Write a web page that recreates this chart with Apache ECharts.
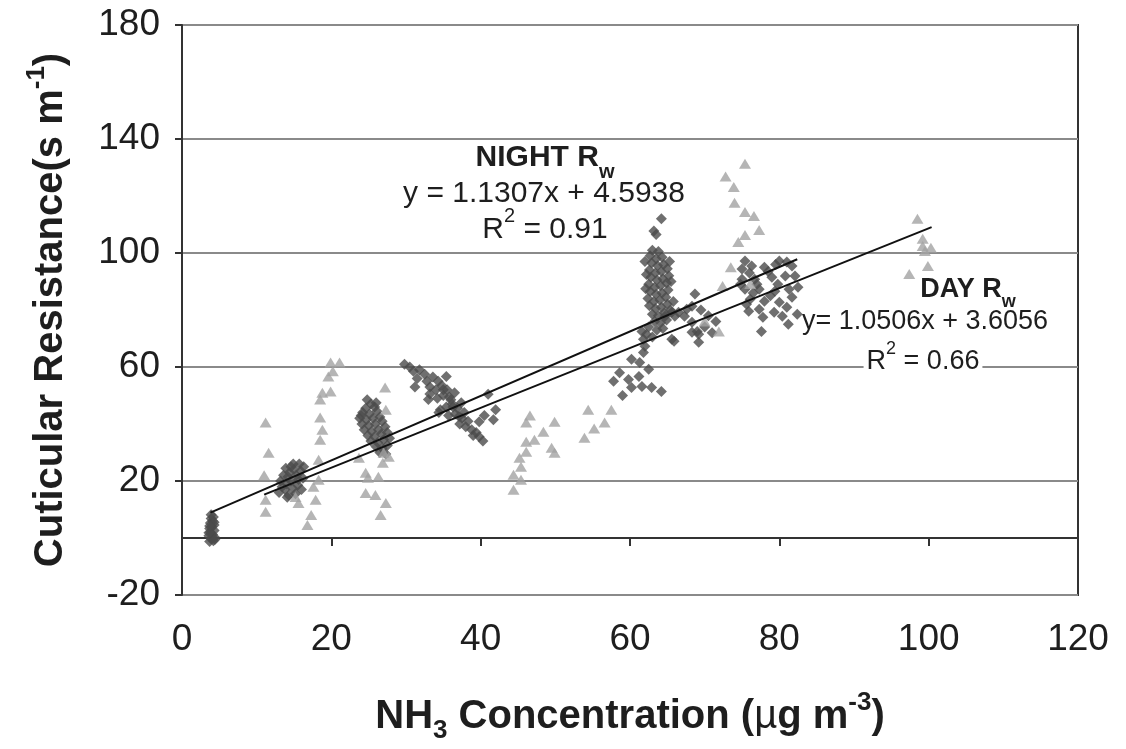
<!DOCTYPE html>
<html style="height: 100%">
<head>
<meta charset="utf-8">
<script src="https://cdn.jsdelivr.net/npm/echarts@6/dist/echarts.min.js"></script>
<title>Cuticular resistance vs NH3</title>
</head>
<body style="height: 100%; margin: 0; background: #fff">
<div id="container" style="width: 1126px; height: 749px"></div>
<script type="text/javascript">

// night Rw points (dark diamonds), [NH3, Rw]
const nightPoints = [
  [3.7,-1.2],[4.2,-1],[3.9,-0.3],[4.4,0.2],[3.6,0.8],[4.1,1.2],[3.8,2],[4.3,2.6],[3.7,3.3],[4.0,4],
  [4.3,4.6],[3.8,5.3],[4.1,6],[3.9,6.8],[4.2,7.4],[3.9,8.2],[4.4,-0.5],[3.6,1.8],[4.3,5.5],[3.7,4.2],
  [13,16],[13.4,18],[13.2,20],[13.8,17],[14,19],[14.2,21.5],[14.4,23],[14.6,25],[14.9,26],[15,24],
  [15.3,22],[15.6,20.5],[15.9,23.5],[16.2,21],[16.3,25],[14.8,17.5],[15.2,15.5],[14.3,15],[13.6,22],[15.5,18.5],
  [16,17],[14.6,20],[13.9,24.5],[15.7,26],[14.1,14.3],
  [24.8,48.5],[25.3,47],[24.6,45.5],[25.8,46],[24.2,44],[25.1,43.5],[26.1,44.5],[23.8,42],[24.7,41.5],[25.6,42],
  [26.5,42.5],[24.1,40],[25,39.5],[25.9,40],[26.8,41],[24.4,38],[25.4,37.5],[26.3,38],[27.2,39],[24.9,36],
  [25.8,35.5],[26.7,36.5],[27.5,37],[25.3,34],[26.2,33.5],[27,34.5],[27.8,35],[26,32],[26.8,31.5],[27.5,32.5],
  [26.5,30],[27.3,29.5],[24,43],[26,47.5],
  [29.8,61],[30.5,60],[31,58.5],[31.8,59],[32.5,57.5],[31.5,56],[32.8,55],[33.6,56.5],[34.3,55],[33.2,53],
  [34,52],[34.8,53.5],[35.5,52],[35,50],[34.2,49],[35.8,49.5],[36.5,51],[36.2,47],[35.4,46],[36.9,45.5],
  [37.4,47.5],[35.7,43],[36.6,43.5],[37.5,42],[38.3,41],[38,39],[38.8,38],[39.4,37],[39.8,35.5],[40.3,34],
  [39,36],[37.2,40],[33.2,50.5],[31.2,53],[34.6,45],[36,48.5],[37.8,44],[41,50.4],[42,45],[39.8,40.8],
  [41.7,41.5],[40.5,43],[35.4,56.7],[35,52],[33,48.6],[34.4,44],[36.3,46],[37.1,42.6],
  [58.6,58],[59.8,55.6],[61.2,56.7],[60.2,52.8],[61.6,53.2],[62.9,52.8],[64.2,51.4],[62.5,59.2],[61.3,61.6],[60.2,62.7],
  [61.8,65.1],[62,67.3],[61.8,69.7],[61.6,72.5],[57.8,55],[59,50],
  [64.2,112],[63.2,107.7],[63.5,106.5],
  [63,101],[63.8,100.5],[62.7,99],[63.5,98],[64.3,98.5],[62.9,96.5],[63.7,95.5],[64.5,96],[62.6,94],[63.4,93],
  [64.2,93.5],[65,94.5],[62.8,91.5],[63.6,90.5],[64.4,91],[65.2,92],[62.5,89],[63.3,88],[64.1,88.5],[64.9,89.5],
  [62.7,86.5],[63.5,85.5],[64.3,86],[65.1,87],[62.4,84],[63.2,83],[64,83.5],[64.8,84.5],[62.6,81.5],[63.4,80.5],
  [64.2,81],[65,82],[65.8,83],[63,78.5],[63.8,78],[64.6,79],[65.4,80],[63.3,76],[64.1,75.5],[64.9,76.5],
  [62.5,74],[63.6,73],[64.4,73.5],[62.2,71.5],[63,70.5],[62,97],[65.3,97],[62.2,92.5],[65.5,90],[62.1,87.5],
  [68.7,85.6],[68.3,81.3],[67.3,77.8],[66.5,79.2],[68.3,75.7],[69,72.5],[68.3,72.2],[65.9,69],[69.2,68.7],[65.6,79.2],
  [64.7,77.8],[67.6,80.3],[69.2,71.5],[65.6,69.7],[66,77.8],[70,74],[71,72],[71.5,76],[70.5,78],[69.5,80],
  [75.4,97.2],[75,94.4],[76.3,95.4],[78,95],[80,97.2],[81,96.8],[81.7,95.4],[75,90.8],[76.7,90.8],[79,91.5],
  [80.8,91.9],[82.1,91.9],[75.4,87.3],[77.3,87.3],[79.4,86.6],[81.3,87.3],[76.1,83.8],[78,83.1],[80,82.7],[81.7,84.5],
  [75.9,79.6],[77.3,80.3],[79.3,79.2],[80.4,77.8],[82.4,78.5],[77.6,72.5],[81.2,75],[76,93],[78.5,93.5],[77,89],
  [79.8,89],[78.8,85],[76.5,86],[81,81],[77.8,77.5],[75.6,82],[79.5,96],[82.5,88],[74.8,89]
];

// day Rw points (light triangles)
const dayPoints = [
  [11.2,40.5],[11.6,29.9],[11,22],[11.2,13.4],[11.2,9.2],[15.2,14.4],[15.6,12.3],[16.8,4.6],[17.3,8.1],[17.6,18],
  [17.9,13.4],[18.3,27.5],[18.5,34.5],[18.8,38],[18.5,42.3],[18.5,48.6],[18.8,51],[19.9,51.4],[19.6,56.7],[19.9,61.6],
  [21.1,61.6],[20.2,58.5],[18.3,20.4],[23.7,28.2],[24.6,22.9],[24.9,21.1],[24.6,15.8],[25.9,15.1],[27.3,12.3],[26.6,8.1],
  [26.3,21.5],[26.9,26.4],[27,29.9],[27.3,45],[27.2,52.8],[27.7,28.5],
  [44.4,16.9],[44.4,22.2],[45.4,20.4],[45.4,25],[45.2,28.2],[46.1,30.3],[46.1,33.8],[47.2,34.5],[46.1,40.5],[46.6,43],
  [48.4,37.3],[49.9,40.8],[49.5,31.7],[49.9,29.9],[53.9,35.2],[55.2,38.4],[56.6,40.5],[54.4,45],[57.5,45],
  [75.4,131.3],[72.8,126.8],[73.9,123.2],[74,117.6],[75.4,114.4],[76.6,113],[77.3,108.1],[75.4,106.3],[74.5,103.9],[73.5,95],
  [76.1,89.1],[72.4,88.4],[71.9,72.5],[70,76],
  [98.5,112],[99.2,102.5],[99.5,100.7],[100.3,101.8],[99.9,95.4],[97.4,92.6],[99.2,105]
];

// fitted lines, end points
const nightTrend = [[3.8, 8.9], [82.4, 97.8]];
const dayTrend = [[11, 15.2], [100.4, 109.1]];

const xTicks = [0, 20, 40, 60, 80, 100, 120];
const yTicks = [-20, 20, 60, 100, 140, 180];

const FONT = 'Liberation Sans';
const dark = '#1e1e1e';

let dom = document.getElementById('container');
let chart = echarts.init(dom);

// rich styles for the axis titles (sub / superscripts)
const supSub = {
  b: {fontSize: 40, fontWeight: 'bold', fontFamily: FONT, color: dark, lineHeight: 54},
  bs: {fontSize: 26, fontWeight: 'bold', fontFamily: FONT, color: dark, lineHeight: 2, verticalAlign: 'bottom'},
  bp: {fontSize: 26, fontWeight: 'bold', fontFamily: FONT, color: dark, lineHeight: 22, verticalAlign: 'top'},
  mu: {fontSize: 40, fontWeight: 'normal', fontFamily: FONT, color: dark, lineHeight: 54}
};

function note(x, y, text, size, bold, bg) {
  return {
    type: 'text', x: x, y: y, z: 100,
    style: {
      text: text, textAlign: 'center', textVerticalAlign: 'middle',
      fontFamily: FONT, fontSize: size, fill: dark,
      backgroundColor: bg ? '#fff' : null, padding: bg ? [0, 3] : 0,
      rich: {
        n: {fontSize: size, fontWeight: bold ? 'bold' : 'normal', fontFamily: FONT, color: dark, lineHeight: Math.round(size * 1.6)},
        s: {fontSize: Math.round(size * 0.68), fontWeight: bold ? 'bold' : 'normal', fontFamily: FONT, color: dark, lineHeight: 2, verticalAlign: 'bottom'},
        p: {fontSize: Math.round(size * 0.68), fontFamily: FONT, color: dark, lineHeight: 2, verticalAlign: 'top'}
      }
    }
  };
}

chart.setOption({
  animation: false,
  backgroundColor: '#fff',
  grid: {left: 182, right: 48, top: 25, bottom: 154, show: true, borderColor: '#333', borderWidth: 2},
  xAxis: [
    {
      type: 'value', min: 0, max: 120, position: 'bottom',
      axisLine: {show: false, onZero: false},
      axisTick: {show: false},
      axisLabel: {customValues: xTicks, fontSize: 37, fontFamily: FONT, color: dark, margin: 26},
      splitLine: {show: false},
      name: '{b|NH}{bs|3}{b| Concentration (}{mu|µ}{b|g m}{bp|-3}{b|)}',
      nameLocation: 'middle', nameGap: 95,
      nameTextStyle: {rich: supSub}
    },
    {
      type: 'value', min: 0, max: 120, position: 'top',
      axisLine: {show: true, onZero: true, lineStyle: {color: '#333', width: 2}},
      axisTick: {show: true, inside: true, length: 8, customValues: xTicks, lineStyle: {color: '#333', width: 2}},
      axisLabel: {show: false},
      splitLine: {show: false}
    }
  ],
  yAxis: {
    type: 'value', min: -20, max: 180,
    axisLine: {show: true, onZero: false, lineStyle: {color: '#333', width: 2}},
    axisTick: {show: true, length: 7, customValues: yTicks, lineStyle: {color: '#333', width: 2}},
    axisLabel: {customValues: yTicks, fontSize: 37, fontFamily: FONT, color: dark, margin: 22},
    splitLine: {show: true, lineStyle: {color: '#8a8a8a', width: 2}},
    name: '{b|Cuticular Resistance(s m}{bp|-1}{b|)}',
    nameLocation: 'middle', nameGap: 104, nameRotate: 90,
    nameTextStyle: {rich: supSub}
  },
  series: [
    {
      type: 'scatter', name: 'NIGHT', data: nightPoints, xAxisIndex: 0,
      symbol: 'diamond', symbolSize: 11,
      itemStyle: {color: '#4b4b4b'}
    },
    {
      type: 'scatter', name: 'DAY', data: dayPoints, xAxisIndex: 0,
      symbol: 'triangle', symbolSize: [12, 10],
      itemStyle: {color: '#a3a3a3'}
    },
    {
      type: 'line', data: nightTrend, xAxisIndex: 0, symbol: 'none', z: 5,
      lineStyle: {color: '#111', width: 2}
    },
    {
      type: 'line', data: dayTrend, xAxisIndex: 0, symbol: 'none', z: 5,
      lineStyle: {color: '#111', width: 2}
    }
  ],
  graphic: [
    note(545, 158, '{n|NIGHT R}{s|w}', 30, true, false),
    note(544, 194, '{n|y = 1.1307x + 4.5938}', 30, false, false),
    note(545, 230, '{n|R}{p|2}{n| = 0.91}', 30, false, false),
    note(968, 290, '{n|DAY R}{s|w}', 27, true, false),
    note(925, 322, '{n|y= 1.0506x + 3.6056}', 27, false, false),
    note(923, 362, '{n|R}{p|2}{n| = 0.66}', 27, false, true)
  ]
});

</script>
</body>
</html>
